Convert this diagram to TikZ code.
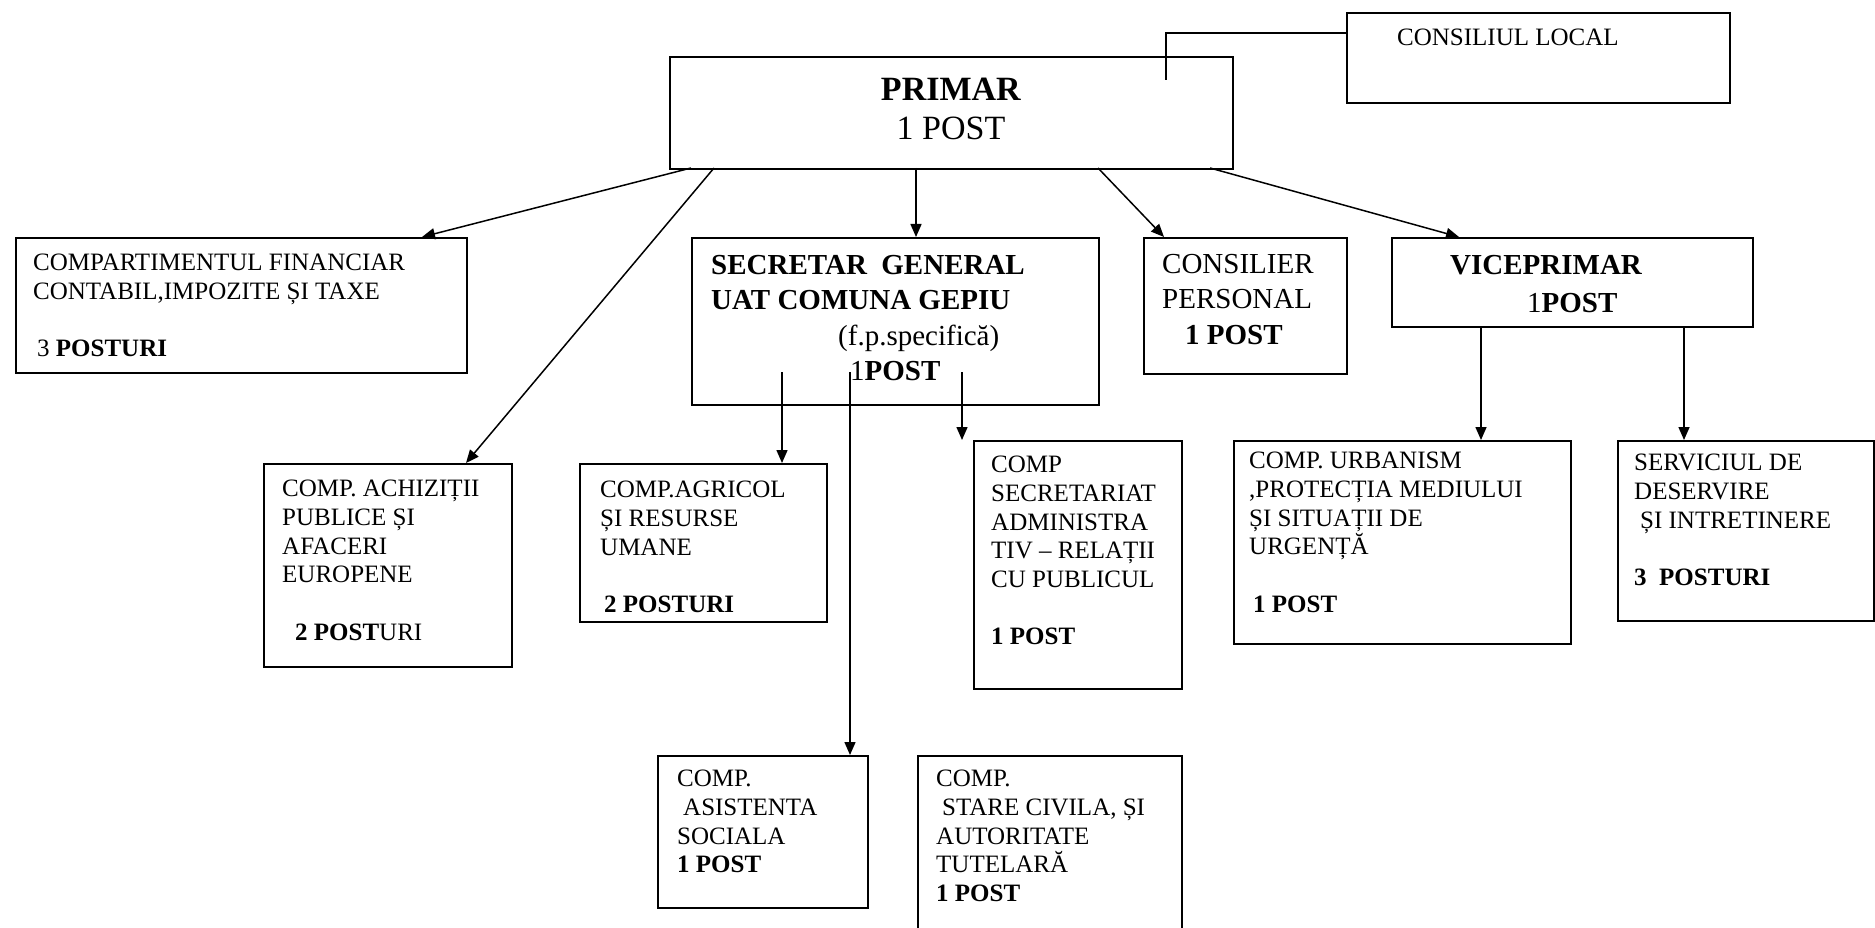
\documentclass[tikz,border=0pt]{standalone}
\usepackage{fontspec}
\setmainfont{Liberation Serif}
\usetikzlibrary{arrows.meta}
\begin{document}
\begin{tikzpicture}[x=1pt,y=-1pt,
  box/.style={draw, line width=1.6pt, inner sep=0pt, anchor=north west},
  txt/.style={inner sep=0pt, anchor=north west, align=left, font=\fontsize{25}{28.7}\selectfont},
  big/.style={inner sep=0pt, anchor=north west, align=left, font=\fontsize{29}{35.5}\selectfont},
  arr/.style={line width=1.5pt, -{Triangle[length=13pt,width=11pt]}},
  ln/.style={line width=1.5pt}]
\useasboundingbox (0,0) rectangle (1875,928);
% boxes
\node[box, minimum width=383pt, minimum height=90pt] (cl) at (1346,12) {};
\node[box, minimum width=563pt, minimum height=112pt] (primar) at (669,56) {};
\node[box, minimum width=451pt, minimum height=135pt] (fin) at (15,237) {};
\node[box, minimum width=407pt, minimum height=167pt] (sec) at (691,237) {};
\node[box, minimum width=203pt, minimum height=136pt] (cons) at (1143,237) {};
\node[box, minimum width=361pt, minimum height=89pt] (vice) at (1391,237) {};
\node[box, minimum width=248pt, minimum height=203pt] (achiz) at (263,463) {};
\node[box, minimum width=247pt, minimum height=158pt] (agr) at (579,463) {};
\node[box, minimum width=208pt, minimum height=248pt] (secr) at (973,440) {};
\node[box, minimum width=337pt, minimum height=203pt] (urb) at (1233,440) {};
\node[box, minimum width=256pt, minimum height=180pt] (serv) at (1617,440) {};
\node[box, minimum width=210pt, minimum height=152pt] (asis) at (657,755) {};
\node[box, minimum width=264pt, minimum height=185pt] (stare) at (917,755) {};
% texts
\node[txt] (cl-t) at (1397,29) {CONSILIUL LOCAL};
\node[inner sep=0pt, anchor=north, align=center, font=\fontsize{34}{39}\selectfont] (primar-t) at (951,78) {\textbf{PRIMAR}\\1 POST};
\node[txt] (fin-t) at (33,254) {COMPARTIMENTUL FINANCIAR\\CONTABIL,IMPOZITE ȘI TAXE\\\mbox{}\\\hspace*{4pt}3 \textbf{POSTURI}};
\node[big] (sec-t) at (711,255) {\textbf{SECRETAR\ \ GENERAL}\\\textbf{UAT COMUNA GEPIU}\\\hspace*{127pt}(f.p.specifică)\\\hspace*{139pt}1\textbf{POST}};
\node[big] (cons-t) at (1162,254) {CONSILIER\\PERSONAL\\\hspace*{23pt}\textbf{1 POST}};
\node[inner sep=0pt, anchor=north west, align=left, font=\fontsize{29}{38.5}\selectfont] (vice-t) at (1450,255) {\textbf{VICEPRIMAR}\\\hspace*{77pt}1\textbf{POST}};
\node[txt] (achiz-t) at (282,480) {COMP. ACHIZIȚII\\PUBLICE ȘI\\AFACERI\\EUROPENE\\\mbox{}\\\hspace*{13pt}\textbf{2 POST}URI};
\node[txt] (agr-t) at (600,481) {COMP.AGRICOL\\ȘI RESURSE\\UMANE\\\mbox{}\\\hspace*{4pt}\textbf{2 POSTURI}};
\node[txt] (secr-t) at (991,456) {COMP\\SECRETARIAT\\ADMINISTRA\\TIV – RELAȚII\\CU PUBLICUL\\\mbox{}\\\textbf{1 POST}};
\node[txt] (urb-t) at (1249,452) {COMP. URBANISM\\,PROTECȚIA MEDIULUI\\ȘI SITUAȚII DE\\URGENȚĂ\\\mbox{}\\\hspace*{4pt}\textbf{1 POST}};
\node[txt] (serv-t) at (1634,454) {SERVICIUL DE\\DESERVIRE\\\hspace*{6pt}ȘI INTRETINERE\\\mbox{}\\\textbf{3\ \ POSTURI}};
\node[txt] (asis-t) at (677,770) {COMP.\\\hspace*{6pt}ASISTENTA\\SOCIALA\\\textbf{1 POST}};
\node[txt] (stare-t) at (936,770) {COMP.\\\hspace*{6pt}STARE CIVILA, ȘI\\AUTORITATE\\TUTELARĂ\\\textbf{1 POST}};
% connector points
\coordinate (pA) at (691,168); \coordinate (fA) at (422,237);
\coordinate (pB) at (714,168); \coordinate (aB) at (466,463);
\coordinate (pC) at (916,168); \coordinate (sC) at (916,237);
\coordinate (pD) at (1098,168); \coordinate (cD) at (1164,237);
\coordinate (pE) at (1210,168); \coordinate (vE) at (1459,237);
\coordinate (s1) at (782,372); \coordinate (g1) at (782,463);
\coordinate (s2) at (850,372); \coordinate (as2) at (850,755);
\coordinate (s3) at (962,372); \coordinate (t3) at (962,440);
\coordinate (v1) at (1481,326); \coordinate (u1) at (1481,440);
\coordinate (v2) at (1684,326); \coordinate (w2) at (1684,440);
\coordinate (pcl) at (1166,80); \coordinate (bend) at (1166,33); \coordinate (clw) at (1346,33);
% connectors
\draw[arr] (pA) -- (fA);
\draw[arr] (pB) -- (aB);
\draw[arr] (pC) -- (sC);
\draw[arr] (pD) -- (cD);
\draw[arr] (pE) -- (vE);
\draw[arr] (s1) -- (g1);
\draw[arr] (s2) -- (as2);
\draw[arr] (s3) -- (t3);
\draw[arr] (v1) -- (u1);
\draw[arr] (v2) -- (w2);
\draw[ln] (pcl) -- (bend) -- (clw);
\end{tikzpicture}
\end{document}
